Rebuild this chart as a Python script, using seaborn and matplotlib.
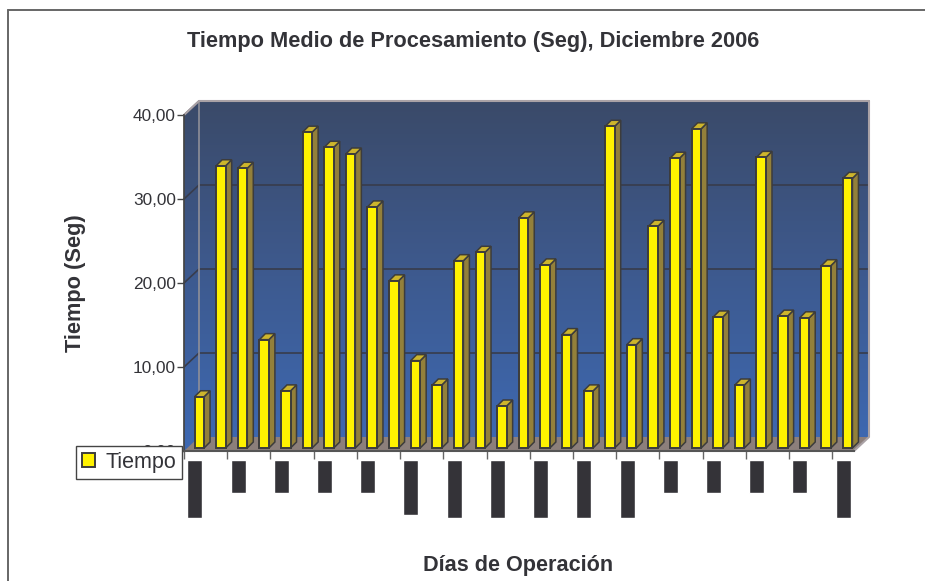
import numpy as np
import pandas as pd
import seaborn as sns
import matplotlib
matplotlib.use("Agg")
import matplotlib.pyplot as plt
from matplotlib.colors import LinearSegmentedColormap
from matplotlib.patches import Polygon, Rectangle

days = list(range(1, 32))
tiempo = [6.1, 33.6, 33.3, 12.9, 6.8, 37.6, 35.8, 35.0, 28.7, 19.9, 10.4,
          7.5, 22.3, 23.3, 5.0, 27.4, 21.8, 13.5, 6.8, 38.3, 12.3, 26.4,
          34.5, 38.0, 15.6, 7.5, 34.6, 15.7, 15.5, 21.7, 32.1]
y_ticks = [0, 10, 20, 30, 40]
y_tick_labels = ["0,00", "10,00", "20,00", "30,00", "40,00"]
# the day labels are blacked out in the source, only the block length is left
label_days = list(range(0, 31, 2))
label_blocks = [58, 33, 33, 33, 33, 55, 58, 58, 58, 58, 58, 33, 33, 33, 33, 58]

W, H = 925, 581
sns.set_theme(style="white")
plt.rcParams["font.family"] = ["Liberation Sans", "DejaVu Sans"]
TEXT = "#333338"

fig = plt.figure(figsize=(W / 100, H / 100), dpi=100)
fig.patch.set_facecolor("white")

# front plane of the fake 3d box, in pixels
left, right, top, bottom = 184, 854, 115, 451
ax = fig.add_axes([left / W, 1 - bottom / H, (right - left) / W, (bottom - top) / H])
df = pd.DataFrame({"dia": days, "tiempo": tiempo})
sns.barplot(data=df, x="dia", y="tiempo", color="#fff200", saturation=1, width=0.44,
            edgecolor="#3c3c3c", linewidth=1.4, ax=ax, zorder=5, label="Tiempo")
handles, labels = ax.get_legend_handles_labels()
ax.get_legend().remove()

ax.set_xlim(-0.5, 30.5)
ax.set_ylim(0, 40)
px_x = 31 / (right - left)
px_y = 40 / (bottom - top)
depth_x, depth_y = 15 * px_x, 14 * px_y
bar_x, bar_y = 4.5 * px_x, 3 * px_y
side_x, side_y = 6 * px_x, 6 * px_y

# walls and floor
wall_cmap = LinearSegmentedColormap.from_list("wall", ["#3d69b3", "#3e5a8f", "#3a4a69"])
grad = np.linspace(1, 0, 256).reshape(-1, 1)
ext = (-0.5, 30.5 + depth_x, 0, 40 + depth_y)
img = ax.imshow(grad, cmap=wall_cmap, extent=ext, aspect="auto", zorder=0)
wall_path = Polygon([(-0.5, 0), (-0.5, 40), (-0.5 + depth_x, 40 + depth_y),
                     (30.5 + depth_x, 40 + depth_y), (30.5 + depth_x, depth_y),
                     (30.5, 0)], transform=ax.transData, fill=False, edgecolor="none", clip_on=False)
ax.add_patch(wall_path)
img.set_clip_box(fig.bbox)
img.set_clip_path(wall_path)
ax.add_patch(Polygon([(-0.5, 0), (30.5, 0), (30.5 + depth_x, depth_y), (-0.5 + depth_x, depth_y)],
                     facecolor="#8c7f7b", edgecolor="none", zorder=1, clip_on=False))
ax.set_xlim(-0.5, 30.5)
ax.set_ylim(0, 40)

for t in y_ticks[1:]:
    ax.plot([-0.5, -0.5 + depth_x, 30.5 + depth_x], [t, t + depth_y, t + depth_y],
            color="#383c4c", lw=1.2, zorder=2, clip_on=False)
ax.plot([-0.5 + depth_x, -0.5 + depth_x], [depth_y, 40 + depth_y], color="#8f8f98", lw=1.2, zorder=2, clip_on=False)
ax.plot([-0.5, -0.5 + depth_x, 30.5 + depth_x, 30.5 + depth_x, 30.5],
        [40, 40 + depth_y, 40 + depth_y, depth_y, 0], color="#aaa2a6", lw=1.5, zorder=2, clip_on=False)

# side and top faces of the bars, taken from the bars seaborn drew
for bar in list(ax.patches):
    if not isinstance(bar, Rectangle) or bar.get_height() == 0 or bar.get_zorder() != 5:
        continue
    bar.set_x(bar.get_x() + bar_x)
    bar.set_y(bar_y)
    bar.set_clip_on(False)
    x0, x1 = bar.get_x(), bar.get_x() + bar.get_width()
    y0, y1 = bar.get_y(), bar.get_y() + bar.get_height()
    ax.add_patch(Polygon([(x1, y0), (x1 + side_x, y0 + side_y), (x1 + side_x, y1 + side_y), (x1, y1)],
                         facecolor="#93803a", edgecolor="#3c3c3c", lw=1.1, zorder=4, clip_on=False))
    ax.add_patch(Polygon([(x0, y1), (x0 + side_x, y1 + side_y), (x1 + side_x, y1 + side_y), (x1, y1)],
                         facecolor="#cdb52c", edgecolor="#3c3c3c", lw=1.1, zorder=4, clip_on=False))

ax.set_xticks(np.arange(-0.5, 30.6, 2))
ax.set_xticklabels([])
ax.set_yticks(y_ticks)
ax.set_yticklabels(y_tick_labels, fontsize=12.4, color=TEXT)
ax.tick_params(axis="y", length=5, width=1, color="#444444", pad=1, left=True)
ax.tick_params(axis="x", length=6, width=1, color="#666666", bottom=True)
ax.set_xlabel("")
ax.set_ylabel("")
sns.despine(ax=ax, top=True, right=True)
ax.spines["left"].set_color("#444444")
ax.spines["bottom"].set_color("#555555")
ax.spines["bottom"].set_linewidth(1.5)

leg = fig.legend(handles[:1], labels[:1], loc="upper left", bbox_to_anchor=(76 / W, 1 - 446 / H),
                 frameon=True, fancybox=False, framealpha=1, edgecolor="#444444", facecolor="white",
                 fontsize=15.5, labelcolor=TEXT, borderaxespad=0, borderpad=0.28,
                 handlelength=0.62, handleheight=0.62, handletextpad=0.48)
leg.set_zorder(20)

# blacked out day labels
ax_lab = fig.add_axes([left / W, 1 - 518 / H, (right - left) / W, 58 / H])
sns.barplot(x=label_days, y=label_blocks, native_scale=True, color="#343338", saturation=1,
            width=0.347, ax=ax_lab)
ax_lab.set_xlim(-0.5, 30.5)
ax_lab.set_ylim(58, 0)
ax_lab.axis("off")

fig.text(473 / W, 1 - 42 / H, "Tiempo Medio de Procesamiento (Seg), Diciembre 2006",
         ha="center", va="center", fontsize=15.7, fontweight="bold", color=TEXT)
fig.text(518 / W, 1 - 566 / H, "Días de Operación", ha="center", va="center",
         fontsize=15.6, fontweight="bold", color=TEXT)
fig.text(76 / W, 1 - 283 / H, "Tiempo (Seg)", ha="center", va="center", rotation=90,
         fontsize=15.7, fontweight="bold", color=TEXT)

# outer frame of the chart
fig.add_artist(plt.Line2D([8 / W, 8 / W], [0, 1 - 10 / H], color="#666666", lw=1.4))
fig.add_artist(plt.Line2D([8 / W, 1], [1 - 10 / H, 1 - 10 / H], color="#666666", lw=1.4))

fig.savefig("out.png", dpi=100)
